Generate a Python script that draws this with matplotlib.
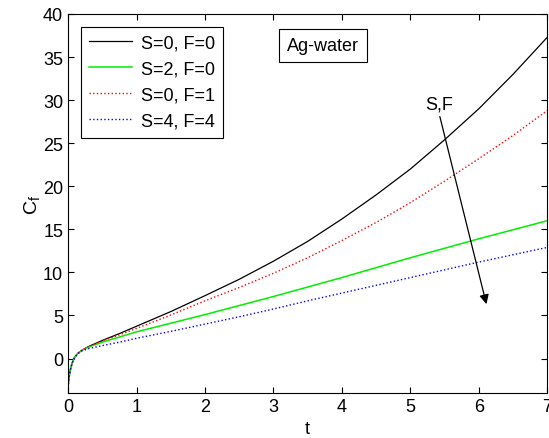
import matplotlib
matplotlib.use('Agg')
import matplotlib.pyplot as plt

plt.rcParams['font.family'] = ['Liberation Sans', 'DejaVu Sans']

# values
t = [0, 0.01, 0.03, 0.06, 0.1, 0.15, 0.2, 0.3, 0.5, 0.75, 1,
     1.5, 2, 2.5, 3, 3.5, 4, 4.5, 5, 5.5, 6, 6.5, 7]
cf_s0_f0 = [-3.4, -2.4, -1.4, -0.5, 0.2, 0.65, 0.95, 1.4, 2.1, 2.9, 3.75,
            5.45, 7.3, 9.2, 11.3, 13.6, 16.2, 19.0, 22.0, 25.4, 29.0, 33.0, 37.3]
cf_s2_f0 = [-3.4, -2.4, -1.4, -0.5, 0.2, 0.65, 0.95, 1.33, 1.9, 2.5, 3.1,
            4.1, 5.1, 6.15, 7.2, 8.3, 9.4, 10.55, 11.7, 12.8, 13.9, 14.95, 16.0]
cf_s0_f1 = [-3.4, -2.4, -1.4, -0.5, 0.2, 0.65, 0.95, 1.38, 2.05, 2.75, 3.5,
            5.05, 6.7, 8.25, 9.9, 11.7, 13.7, 15.8, 18.1, 20.6, 23.2, 25.9, 28.8]
cf_s4_f4 = [-3.4, -2.4, -1.4, -0.5, 0.2, 0.6, 0.88, 1.15, 1.5, 1.9, 2.35,
            3.15, 4.0, 4.85, 5.75, 6.7, 7.6, 8.5, 9.4, 10.3, 11.2, 12.05, 12.9]
labels = ['S=0, F=0', 'S=2, F=0', 'S=0, F=1', 'S=4, F=4']

fig = plt.figure(figsize=(5.49, 4.39), dpi=100)
ax = fig.add_axes([0.124, 0.1025, 0.873, 0.8635])

ax.plot(t, cf_s0_f0, color='black', lw=0.9, label=labels[0])
ax.plot(t, cf_s2_f0, color='#00ee00', lw=1.1, label=labels[1])
ax.plot(t, cf_s0_f1, color='red', lw=1.0, ls=':', label=labels[2])
ax.plot(t, cf_s4_f4, color='blue', lw=1.0, ls=':', label=labels[3])

ax.set_xlim(0, 7)
ax.set_ylim(-4, 40)
ax.set_xticks(range(0, 8))
ax.set_yticks(range(0, 41, 5))
ax.tick_params(direction='in', top=True, right=True, labelsize=13, length=4)
ax.set_xlabel('t', fontsize=13, labelpad=4)
ax.set_ylabel('C$_\\mathregular{f}$', fontsize=14, labelpad=0)

leg = ax.legend(loc='upper left', fontsize=13, handlelength=2.4,
                fancybox=False, edgecolor='black', framealpha=1,
                borderpad=0.45, labelspacing=0.5, borderaxespad=0.7,
                handletextpad=0.5)
leg.get_frame().set_linewidth(0.8)

ax.text(3.72, 36.3, 'Ag-water', fontsize=13, ha='center', va='center',
        bbox=dict(boxstyle='square,pad=0.45', fc='white', ec='black', lw=0.8))

ax.annotate('', xy=(6.12, 6.0), xytext=(5.42, 28.4),
            arrowprops=dict(arrowstyle='-|>', color='black', lw=0.9,
                            mutation_scale=14))
ax.text(5.42, 28.6, 'S,F', fontsize=13, ha='center', va='bottom')

fig.savefig('out.png', dpi=100)
